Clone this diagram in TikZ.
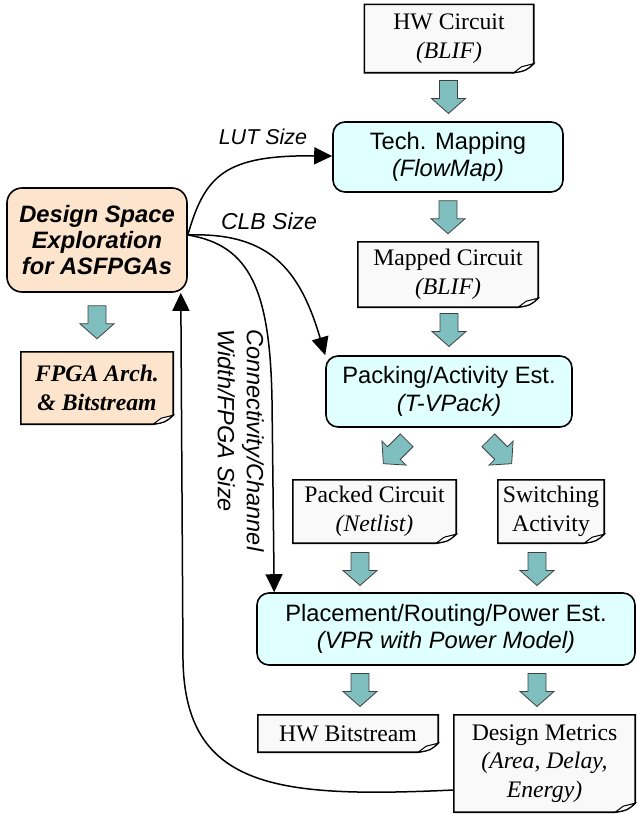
\documentclass[tikz,border=0pt]{standalone}
\usepackage{fontspec}
\setmainfont{Liberation Serif}
\setsansfont{Liberation Sans}
\usetikzlibrary{arrows.meta,backgrounds,calc}
\definecolor{boxcyan}{RGB}{224,255,255}
\definecolor{peach}{RGB}{253,228,204}
\definecolor{tealarrow}{RGB}{128,191,191}
\definecolor{docgray}{RGB}{249,249,249}
\newcommand{\docshape}[2]{%
  \draw[line width=1.6pt, fill=#2, line join=miter] (#1.north west) -- (#1.north east) -- ([yshift=9pt]#1.south east) .. controls ([xshift=-8pt,yshift=2pt]#1.south east) .. ([xshift=-20pt]#1.south east) -- (#1.south west) -- cycle;
  \draw[line width=1pt, fill=white] ([xshift=-20pt]#1.south east) -- ([xshift=-12pt,yshift=6pt]#1.south east) -- ([yshift=9pt]#1.south east) .. controls ([xshift=-8pt,yshift=2pt]#1.south east) .. cycle;
}
\tikzset{pics/barrow/.style={code={\draw[fill=tealarrow, draw=black!75, line width=0.8pt, line join=miter] (-9,-16.5) -- (9,-16.5) -- (9,1.5) -- (17,1.5) -- (0,16.5) -- (-17,1.5) -- (-9,1.5) -- cycle;}}}
\begin{document}
\begin{tikzpicture}[x=1pt,y=-1pt,
  rbox/.style={draw, line width=1.6pt, rounded corners=12pt, fill=boxcyan, align=center, inner sep=0pt, font=\sffamily\fontsize{23.7}{27.5}\selectfont},
  docnode/.style={inner sep=0pt, align=center, font=\fontsize{23.7}{28.5}\selectfont},
  conn/.style={line width=1.5pt, -{Triangle[length=18pt,width=17pt]}},
  lbl/.style={font=\sffamily\itshape\fontsize{21.5}{26}\selectfont, inner sep=0pt}]
\useasboundingbox (0,0) rectangle (637,814);
% nodes
\node[docnode, minimum width=169pt, minimum height=68pt] (hw) at (449,38.5) {HW Circuit\\\textit{(BLIF)}};
\node[rbox, minimum width=230pt, minimum height=70pt] (tech) at (448,157) {Tech. Mapping\\\textit{(FlowMap)}};
\node[docnode, minimum width=180pt, minimum height=65pt] (mapped) at (448,274.5) {Mapped Circuit\\\textit{(BLIF)}};
\node[rbox, minimum width=246pt, minimum height=71pt] (pack) at (449,391.5) {Packing/Activity Est.\\\textit{(T-VPack)}};
\node[docnode, minimum width=163pt, minimum height=63pt] (packed) at (374.5,511.5) {Packed Circuit\\\textit{(Netlist)}};
\node[docnode, minimum width=106pt, minimum height=63pt] (switch) at (551,511.5) {Switching\\Activity};
\node[rbox, minimum width=378pt, minimum height=72pt] (place) at (446,629) {Placement/Routing/Power Est.\\\textit{(VPR with Power Model)}};
\node[docnode, minimum width=180pt, minimum height=37pt] (hwbit) at (348,733.5) {HW Bitstream};
\node[docnode, minimum width=181pt, minimum height=97pt] (metrics) at (544.5,763.5) {Design Metrics\\\textit{(Area, Delay,}\\\textit{Energy)}};
\node[rbox, fill=peach, rounded corners=15pt, minimum width=180pt, minimum height=104pt, font=\sffamily\bfseries\itshape\fontsize{23.7}{26}\selectfont] (dse) at (97,240) {Design Space\\Exploration\\for ASFPGAs};
\node[docnode, minimum width=152pt, minimum height=72pt, font=\bfseries\itshape\fontsize{23.7}{28.5}\selectfont] (fpga) at (97,388) {FPGA Arch.\\\& Bitstream};
% document shapes
\begin{scope}[on background layer]
\docshape{hw}{docgray}
\docshape{mapped}{docgray}
\docshape{packed}{docgray}
\docshape{switch}{docgray}
\docshape{hwbit}{docgray}
\docshape{metrics}{docgray}
\docshape{fpga}{peach}
\end{scope}
% block arrows
\pic at ($(hw.south)!0.5!(tech.north)$) {barrow};
\pic at ($(tech.south)!0.5!(mapped.north)$) {barrow};
\pic at (449,330) {barrow};
\pic[rotate=-45] at (395,452) {barrow};
\pic[rotate=45] at (500,452) {barrow};
\pic at (360,569) {barrow};
\pic at (537,569) {barrow};
\pic at (360,690) {barrow};
\pic at (537,690) {barrow};
\pic at ($(dse.south)!0.5!(fpga.north)$) {barrow};
% connectors
\coordinate (src) at ([yshift=5pt]dse.east);
\draw[conn] (src) .. controls (205,175) and (225,155) .. ([yshift=1pt]tech.west);
\draw[conn] (src) .. controls (270,232) and (300,270) .. (pack.north west);
\draw[conn] (src) .. controls (250,245) and (270,290) .. (272,400) -- ([xshift=18pt]place.north west);
\draw[conn] ([yshift=-26.5pt]metrics.west) .. controls (280,798) and (185,790) .. (183,660) -- ([xshift=-7pt]dse.south east);
% labels
\node[lbl] (lut) at (263,137) {LUT Size};
\node[lbl, font=\sffamily\itshape\fontsize{23}{26}\selectfont] (clb) at (269,221) {CLB Size};
\node[lbl, rotate=-90, anchor=north west, align=left, font=\sffamily\itshape\fontsize{23.5}{29}\selectfont] (conlbl) at (264,329) {Connectivity/Channel\\Width/FPGA Size};
\end{tikzpicture}
\end{document}
